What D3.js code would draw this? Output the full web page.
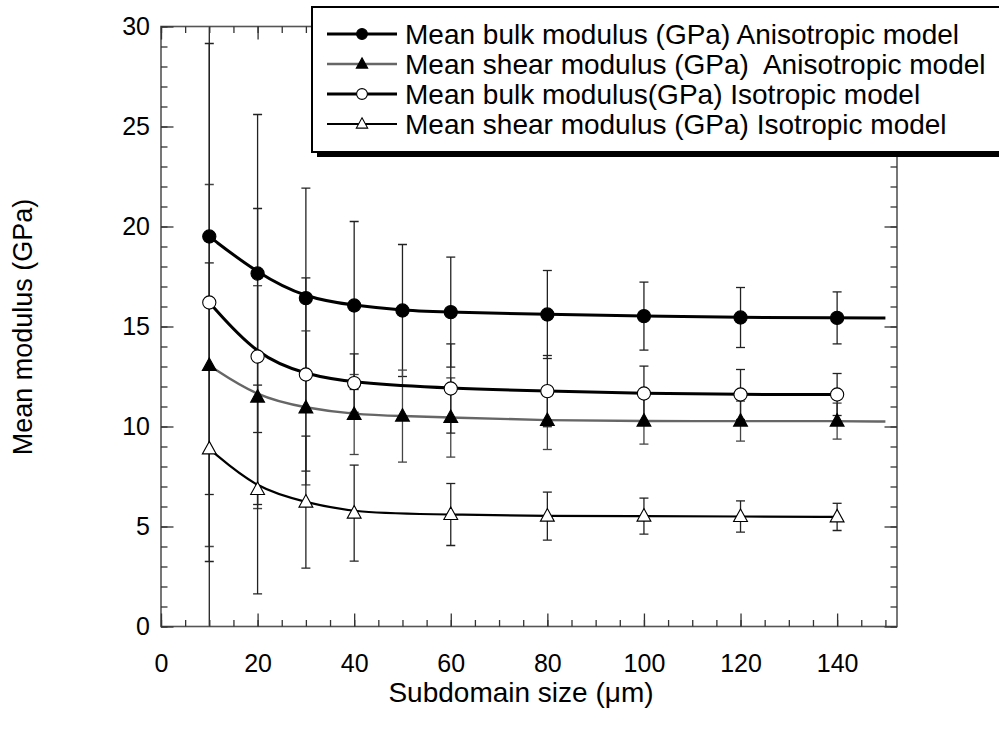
<!DOCTYPE html>
<html><head><meta charset="utf-8">
<script src="https://cdn.jsdelivr.net/npm/d3@7"></script>
<style>
html,body{margin:0;padding:0;background:#fff;}
svg{display:block;font-family:"Liberation Sans",Arial,Helvetica,sans-serif;}
</style></head>
<body><svg id="c" width="999" height="734"></svg>
<script>
// ---- data ----
const anisoSizes = [10, 20, 30, 40, 50, 60, 80, 100, 120, 140];
const bulkAnisoMean = [19.5, 17.65, 16.42, 16.05, 15.8, 15.72, 15.6, 15.52, 15.45, 15.43];
const bulkAnisoErr  = [12.9, 7.95, 5.5, 4.2, 3.3, 2.75, 2.2, 1.7, 1.5, 1.3];
const shearAnisoMean = [13.05, 11.47, 10.93, 10.6, 10.52, 10.45, 10.3, 10.27, 10.27, 10.27];
const shearAnisoErr  = [9.05, 5.57, 3.85, 2.0, 2.3, 1.98, 1.45, 1.15, 1.0, 0.9];
const isoSizes = [10, 20, 30, 40, 60, 80, 100, 120, 140];
const bulkIsoMean = [16.2, 13.5, 12.6, 12.17, 11.9, 11.77, 11.65, 11.6, 11.6];
const bulkIsoErr  = [12.95, 7.4, 4.83, 1.46, 2.23, 1.78, 1.37, 1.25, 1.05];
const shearIsoMean = [8.88, 6.85, 6.22, 5.67, 5.6, 5.52, 5.52, 5.5, 5.48];
const shearIsoErr  = [9.3, 5.22, 3.3, 2.4, 1.55, 1.2, 0.9, 0.78, 0.68];
// fitted curves of the anisotropic series continue to size 150
const fitEndSize = 150;
const bulkAnisoFitEnd = 15.42;
const shearAnisoFitEnd = 10.25;
const xTickLabels = [0, 20, 40, 60, 80, 100, 120, 140];
const yTickLabels = [0, 5, 10, 15, 20, 25, 30];
const legendLabels = [
  "Mean bulk modulus (GPa) Anisotropic model",
  "Mean shear modulus (GPa)\u00a0 Anisotropic model",
  "Mean bulk modulus(GPa) Isotropic model",
  "Mean shear modulus (GPa) Isotropic model"
];
const xTitle = "Subdomain size (\u03bcm)";
const yTitle = "Mean modulus (GPa)";

// ---- layout ----
const svg = d3.select("#c");
const L = 161, R = 897, T = 26.5, B = 626.5;
const x = d3.scaleLinear().domain([0, 152.4]).range([L, R]);
const y = d3.scaleLinear().domain([0, 30]).range([B, T]);
const FONT = '"Liberation Sans",Arial,Helvetica,sans-serif';

const series = [
  {sizes: anisoSizes, mean: bulkAnisoMean, err: bulkAnisoErr, end: bulkAnisoFitEnd,
   color: "#000", width: 3, marker: "circle", fill: "#000", ebColor: "#222"},
  {sizes: anisoSizes, mean: shearAnisoMean, err: shearAnisoErr, end: shearAnisoFitEnd,
   color: "#666", width: 2.4, marker: "triangle", fill: "#000", ebColor: "#444"},
  {sizes: isoSizes, mean: bulkIsoMean, err: bulkIsoErr, end: null,
   color: "#000", width: 3, marker: "circle", fill: "#fff", ebColor: "#222"},
  {sizes: isoSizes, mean: shearIsoMean, err: shearIsoErr, end: null,
   color: "#000", width: 2.2, marker: "triangle", fill: "#fff", ebColor: "#222"}
];

const clipId = "plotclip";
svg.append("defs").append("clipPath").attr("id", clipId)
  .append("rect").attr("x", L).attr("y", T).attr("width", R - L).attr("height", B - T);

// error bars
const eb = svg.append("g").attr("clip-path", `url(#${clipId})`);
series.forEach(s => {
  s.sizes.forEach((sz, i) => {
    const lo = s.mean[i] - s.err[i], hi = s.mean[i] + s.err[i];
    const g = eb.append("g").attr("stroke", s.ebColor).attr("stroke-width", 1.3);
    g.append("line").attr("x1", x(sz)).attr("x2", x(sz)).attr("y1", y(lo)).attr("y2", y(hi));
    [lo, hi].forEach(v => {
      g.append("line").attr("x1", x(sz) - 4.5).attr("x2", x(sz) + 4.5)
        .attr("y1", y(v)).attr("y2", y(v));
    });
  });
});

// lines (smooth fitted-looking curves through the means)
const lineGen = d3.line().x(d => x(d[0])).y(d => y(d[1])).curve(d3.curveBasis);
series.forEach(s => {
  const pts = s.sizes.map((sz, i) => [sz, s.mean[i]]);
  if (s.end !== null) pts.push([fitEndSize, s.end]);
  svg.append("path").attr("d", lineGen(pts)).attr("fill", "none")
    .attr("stroke", s.color).attr("stroke-width", s.width).attr("stroke-linejoin", "round");
});

// markers
function drawMarker(g, type, cx, cy, size, fill) {
  if (type === "circle") {
    g.append("circle").attr("cx", cx).attr("cy", cy).attr("r", size)
      .attr("fill", fill).attr("stroke", "#000").attr("stroke-width", 1.1);
  } else {
    const h = size * 1.9, w = size * 2.1;
    g.append("path").attr("d", `M${cx},${cy - h * 0.6}L${cx + w / 2},${cy + h * 0.4}L${cx - w / 2},${cy + h * 0.4}Z`)
      .attr("fill", fill).attr("stroke", "#000").attr("stroke-width", 1.1);
  }
}
const mk = svg.append("g");
series.forEach(s => {
  s.sizes.forEach((sz, i) => drawMarker(mk, s.marker, x(sz), y(s.mean[i]), 6.6, s.fill));
});

// frame
svg.append("rect").attr("x", L).attr("y", T).attr("width", R - L).attr("height", B - T)
  .attr("fill", "none").attr("stroke", "#555").attr("stroke-width", 1.6);

// ticks
const tickColor = "#333";
function ticks(axisFn, scale, values, size, translate) {
  const g = svg.append("g").attr("transform", translate)
    .call(axisFn(scale).tickValues(values).tickSize(size).tickFormat(""));
  g.select(".domain").remove();
  g.selectAll("line").attr("stroke", tickColor).attr("stroke-width", 1.3);
}
const yMinor = d3.range(0, 31, 1), yMajor = yTickLabels;
const xMinor = d3.range(0, 151, 5), xMajor = xTickLabels;
ticks(d3.axisLeft, y, yMinor, -6.5, `translate(${L},0)`);
ticks(d3.axisLeft, y, yMajor, -12.5, `translate(${L},0)`);
ticks(d3.axisRight, y, yMinor, -6.5, `translate(${R},0)`);
ticks(d3.axisRight, y, yMajor, -12.5, `translate(${R},0)`);
ticks(d3.axisBottom, x, xMinor, -6.5, `translate(0,${B})`);
ticks(d3.axisBottom, x, xMajor, -13, `translate(0,${B})`);
ticks(d3.axisTop, x, xMinor, -6.5, `translate(0,${T})`);
ticks(d3.axisTop, x, xMajor, -13, `translate(0,${T})`);

// tick labels
const yl = svg.append("g").attr("transform", `translate(${L},0)`)
  .call(d3.axisLeft(y).tickValues(yTickLabels).tickSize(0).tickPadding(11));
yl.select(".domain").remove();
yl.selectAll("text").attr("font-family", FONT).attr("font-size", 25).attr("fill", "#000");
const xl = svg.append("g").attr("transform", `translate(0,${B})`)
  .call(d3.axisBottom(x).tickValues(xTickLabels).tickSize(0).tickPadding(37));
xl.select(".domain").remove();
xl.selectAll("text").attr("font-family", FONT).attr("font-size", 25).attr("fill", "#000")
  .attr("dy", "0.35em");

// titles
svg.append("text").attr("x", 521).attr("y", 702).attr("text-anchor", "middle")
  .attr("font-family", FONT).attr("font-size", 28).text(xTitle);
svg.append("text").attr("transform", "translate(32,327) rotate(-90)").attr("text-anchor", "middle")
  .attr("font-family", FONT).attr("font-size", 27).text(yTitle);

// legend
const lg = svg.append("g");
lg.append("rect").attr("x", 317).attr("y", 12).attr("width", 720).attr("height", 145).attr("fill", "#000");
lg.append("rect").attr("x", 312).attr("y", 7).attr("width", 720).attr("height", 145)
  .attr("fill", "#fff").attr("stroke", "#000").attr("stroke-width", 2);
series.forEach((s, i) => {
  const cy = 34 + i * 30;
  lg.append("line").attr("x1", 327).attr("x2", 397).attr("y1", cy).attr("y2", cy)
    .attr("stroke", s.color).attr("stroke-width", s.width);
  drawMarker(lg, s.marker, 362, cy, 5.4, s.fill);
  lg.append("text").attr("x", 405).attr("y", cy + 9.5).attr("font-family", FONT)
    .attr("font-size", 28).attr("fill", "#000").text(legendLabels[i]);
});
</script></body></html>
